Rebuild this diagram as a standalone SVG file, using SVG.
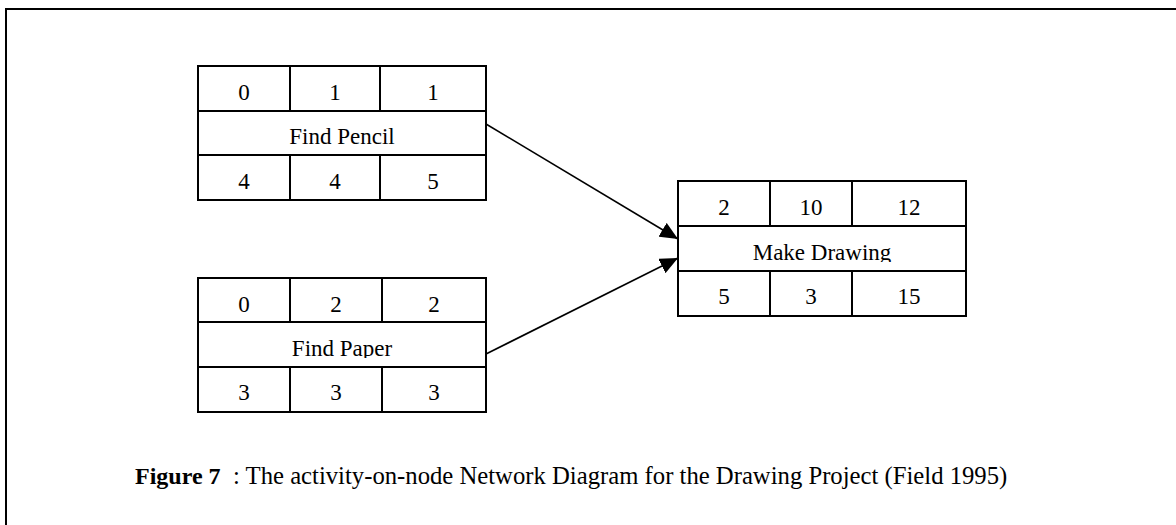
<svg xmlns="http://www.w3.org/2000/svg" width="1176" height="525" viewBox="0 0 1176 525">
<style>
.box{fill:#fff;stroke:#000;stroke-width:2}
.ln{stroke:#000;stroke-width:2;fill:none}
.t{font-family:"Liberation Serif","Times New Roman",serif;font-size:23px;fill:#000;text-anchor:middle}
.cap{font-family:"Liberation Serif","Times New Roman",serif;font-size:24px;fill:#000}
.conn{stroke:#000;stroke-width:1.6;fill:none}
</style>
<defs>
<marker id="ah" viewBox="0 0 18 16" refX="18" refY="8" markerWidth="18" markerHeight="16" markerUnits="userSpaceOnUse" orient="auto">
<path d="M0,0 L18,8 L0,16 Z" fill="#000"/>
</marker>
<clipPath id="c2"><rect x="198" y="322" width="289" height="36"/></clipPath>
<clipPath id="c3"><rect x="678" y="226" width="289" height="36"/></clipPath>
</defs>
<rect x="0" y="0" width="1176" height="525" fill="#fff"/>
<g id="frame">
<path class="ln" d="M6,525 L6,9 L1176,9"/>
</g>
<g id="find-pencil">
<rect class="box" x="198" y="66" width="288" height="134"/>
<path class="ln" d="M198,111 H486 M198,155 H486 M290,66 V111 M380,66 V111 M290,155 V200 M380,155 V200"/>
<text class="t" x="244" y="100">0</text>
<text class="t" x="335" y="100">1</text>
<text class="t" x="433" y="100">1</text>
<text class="t" x="342" y="144">Find Pencil</text>
<text class="t" x="244" y="189">4</text>
<text class="t" x="335" y="189">4</text>
<text class="t" x="433" y="189">5</text>
</g>
<g id="find-paper">
<rect class="box" x="198" y="278" width="288" height="134"/>
<path class="ln" d="M198,322 H486 M198,367 H486 M290,278 V322 M382,278 V322 M290,367 V412 M382,367 V412"/>
<text class="t" x="244" y="312">0</text>
<text class="t" x="336" y="312">2</text>
<text class="t" x="434" y="312">2</text>
<text class="t" x="342" y="356" clip-path="url(#c2)">Find Paper</text>
<text class="t" x="244" y="400">3</text>
<text class="t" x="336" y="400">3</text>
<text class="t" x="434" y="400">3</text>
</g>
<g id="make-drawing">
<rect class="box" x="678" y="181" width="288" height="135"/>
<path class="ln" d="M678,226 H966 M678,271 H966 M770,181 V226 M852,181 V226 M770,271 V316 M852,271 V316"/>
<text class="t" x="724" y="215">2</text>
<text class="t" x="811" y="215">10</text>
<text class="t" x="909" y="215">12</text>
<text class="t" x="822" y="260" clip-path="url(#c3)">Make Drawing</text>
<text class="t" x="724" y="304">5</text>
<text class="t" x="811" y="304">3</text>
<text class="t" x="909" y="304">15</text>
</g>
<g id="connectors">
<line class="conn" x1="486" y1="124" x2="678" y2="239" marker-end="url(#ah)"/>
<line class="conn" x1="486" y1="354" x2="678" y2="258" marker-end="url(#ah)"/>
</g>
<g id="caption">
<text class="cap" x="135" y="484"><tspan font-weight="bold">Figure 7</tspan><tspan x="233" font-size="24.7">: The activity-on-node Network Diagram for the Drawing Project (Field 1995)</tspan></text>
</g>
</svg>
